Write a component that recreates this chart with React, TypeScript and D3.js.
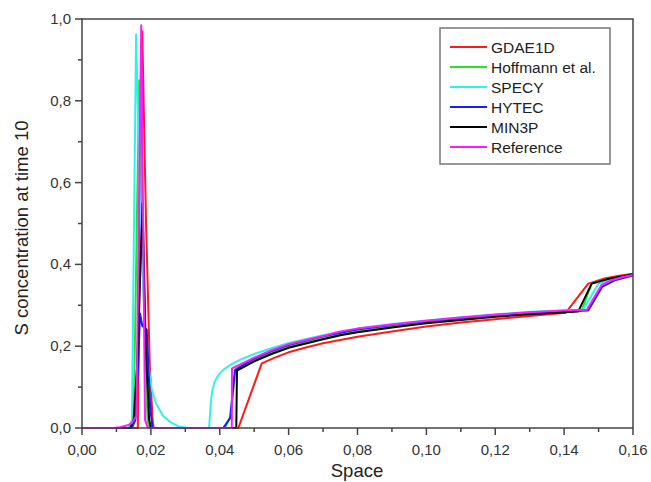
import React from "react";
import * as d3 from "d3";

type P = [number, number];

const seriesNames = ["GDAE1D", "Hoffmann et al.", "SPECY", "HYTEC", "MIN3P", "Reference"];
const seriesColors = ["#ff1a1a", "#22e622", "#33f0f0", "#1a1aff", "#000000", "#ff1aff"];

const gdae1d: P[] = [
  [0, 0], [0.0162, 0], [0.0175, 0.97], [0.0186, 0.5], [0.0197, 0.15], [0.0205, 0.02], [0.0208, 0],
  [0.0454, 0], [0.0522, 0.158], [0.056, 0.172], [0.06, 0.185], [0.065, 0.197], [0.07, 0.207],
  [0.08, 0.223], [0.09, 0.236], [0.1, 0.248], [0.11, 0.258], [0.12, 0.266], [0.13, 0.274],
  [0.1405, 0.282], [0.147, 0.353], [0.152, 0.366], [0.156, 0.372], [0.16, 0.377],
];
const hoffmann: P[] = [
  [0, 0], [0.014, 0], [0.015, 0.02], [0.0166, 0.85], [0.018, 0.3], [0.019, 0.02], [0.0195, 0],
  [0.0415, 0], [0.0432, 0.03], [0.0446, 0.145], [0.05, 0.168], [0.055, 0.185], [0.06, 0.199],
  [0.07, 0.22], [0.08, 0.236], [0.09, 0.248], [0.1, 0.258], [0.11, 0.266], [0.12, 0.274],
  [0.13, 0.28], [0.1451, 0.287], [0.148, 0.353], [0.153, 0.365], [0.16, 0.376],
];
const specy: P[] = [
  [0, 0], [0.0135, 0], [0.0145, 0.02], [0.0157, 0.963], [0.0169, 0.53], [0.0185, 0.2],
  [0.0203, 0.093], [0.0215, 0.06], [0.0235, 0.03], [0.0256, 0.015], [0.028, 0.004], [0.031, 0],
  [0.0369, 0], [0.0371, 0.025], [0.0374, 0.06], [0.0378, 0.09], [0.0385, 0.113], [0.0395, 0.128],
  [0.041, 0.142], [0.043, 0.154], [0.046, 0.167], [0.05, 0.181], [0.055, 0.195], [0.06, 0.208],
  [0.07, 0.227], [0.08, 0.243], [0.09, 0.254], [0.1, 0.263], [0.11, 0.271], [0.12, 0.278],
  [0.13, 0.284], [0.1455, 0.289], [0.15, 0.353], [0.154, 0.364], [0.16, 0.374],
];
const hytec: P[] = [
  [0, 0], [0.0145, 0], [0.0155, 0.02], [0.0163, 0.15], [0.01685, 0.28], [0.0175, 0.25],
  [0.0188, 0.24], [0.0198, 0.05], [0.0205, 0],
  [0.041, 0], [0.043, 0.024], [0.0444, 0.141], [0.05, 0.17], [0.055, 0.188], [0.06, 0.203],
  [0.07, 0.224], [0.08, 0.241], [0.09, 0.252], [0.1, 0.261], [0.11, 0.269], [0.12, 0.276],
  [0.13, 0.282], [0.147, 0.287], [0.151, 0.345], [0.155, 0.362], [0.16, 0.373],
];
const min3p: P[] = [
  [0, 0], [0.014, 0], [0.015, 0.02], [0.016, 0.15], [0.0176, 0.55], [0.0185, 0.2], [0.0195, 0.02],
  [0.02, 0],
  [0.0448, 0], [0.045, 0.14], [0.05, 0.163], [0.055, 0.181], [0.06, 0.196], [0.07, 0.217],
  [0.075, 0.227], [0.08, 0.234], [0.09, 0.246], [0.1, 0.256], [0.11, 0.264], [0.12, 0.272],
  [0.13, 0.278], [0.1441, 0.285], [0.148, 0.353], [0.153, 0.365], [0.16, 0.376],
];
const reference: P[] = [
  [0, 0], [0.009, 0], [0.011, 0.002], [0.013, 0.006], [0.0145, 0.012], [0.0158, 0.03],
  [0.0172, 0.985], [0.0183, 0.02], [0.019, 0.003], [0.0195, 0],
  [0.0435, 0], [0.04355, 0.146], [0.0478, 0.163], [0.05, 0.172], [0.055, 0.19], [0.06, 0.205],
  [0.065, 0.215], [0.07, 0.225], [0.075, 0.236], [0.08, 0.243], [0.09, 0.253], [0.1, 0.262],
  [0.11, 0.27], [0.12, 0.277], [0.13, 0.283], [0.14, 0.287], [0.1466, 0.289], [0.1509, 0.35],
  [0.154, 0.362], [0.157, 0.369], [0.16, 0.374],
];
const seriesData: P[][] = [gdae1d, hoffmann, specy, hytec, min3p, reference];

const xMajorTicks = [0, 0.02, 0.04, 0.06, 0.08, 0.1, 0.12, 0.14, 0.16];
const xMinorTicks = [0.01, 0.03, 0.05, 0.07, 0.09, 0.11, 0.13, 0.15];
const yMajorTicks = [0, 0.2, 0.4, 0.6, 0.8, 1.0];
const yMinorTicks = [0.1, 0.3, 0.5, 0.7, 0.9];

const xTitle = "Space";
const yTitle = "S concentration at time 10";

const W = 651, H = 482;
const L = 82, R = 633, T = 19, B = 428;
const font = "Arial, 'Liberation Sans', sans-serif";
const axisColor = "#444";
const textColor = "#333";

const fmt = (v: number, d: number) => v.toFixed(d).replace(".", ",");

export default function App() {
  const x = d3.scaleLinear().domain([0, 0.16]).range([L, R]);
  const y = d3.scaleLinear().domain([0, 1]).range([B, T]);
  const line = d3.line<P>().x((d) => x(d[0])).y((d) => y(d[1])).curve(d3.curveLinear);

  const lg = { x0: 440, y0: 28, x1: 610, y1: 164 };

  return (
    <div style={{ position: "absolute", left: 0, top: 0 }}>
      <svg width={W} height={H} style={{ display: "block", background: "#fff" }}>
        <rect x={0} y={0} width={W} height={H} fill="#fff" />
        <defs>
          <clipPath id="plot">
            <rect x={L} y={T - 2} width={R - L} height={B - T + 4} />
          </clipPath>
        </defs>
        <g clipPath="url(#plot)">
          {seriesData.map((s, i) => (
            <path key={i} d={line(s) || ""} fill="none" stroke={seriesColors[i]} strokeWidth={2}
              strokeLinejoin="round" />
          ))}
        </g>
        {/* frame */}
        <rect x={L} y={T} width={R - L} height={B - T} fill="none" stroke={axisColor} strokeWidth={1.5} />
        {/* x ticks */}
        {xMajorTicks.map((t) => (
          <g key={"xm" + t}>
            <line x1={x(t)} x2={x(t)} y1={B} y2={B + 7} stroke={axisColor} strokeWidth={1.5} />
            <text x={x(t)} y={455} textAnchor="middle" fontFamily={font} fontSize={15} fill={textColor}>
              {fmt(t, 2)}
            </text>
          </g>
        ))}
        {xMinorTicks.map((t) => (
          <line key={"xn" + t} x1={x(t)} x2={x(t)} y1={B} y2={B + 4} stroke={axisColor} strokeWidth={1.5} />
        ))}
        {/* y ticks */}
        {yMajorTicks.map((t) => (
          <g key={"ym" + t}>
            <line x1={L - 7} x2={L} y1={y(t)} y2={y(t)} stroke={axisColor} strokeWidth={1.5} />
            <text x={71} y={y(t) + 5} textAnchor="end" fontFamily={font} fontSize={15} fill={textColor}>
              {fmt(t, 1)}
            </text>
          </g>
        ))}
        {yMinorTicks.map((t) => (
          <line key={"yn" + t} x1={L - 4} x2={L} y1={y(t)} y2={y(t)} stroke={axisColor} strokeWidth={1.5} />
        ))}
        {/* titles */}
        <text x={357} y={477} textAnchor="middle" fontFamily={font} fontSize={18.5} fill="#222">
          {xTitle}
        </text>
        <text transform={`translate(28, 228) rotate(-90)`} textAnchor="middle" fontFamily={font}
          fontSize={18.5} fill="#222">
          {yTitle}
        </text>
        {/* legend */}
        <rect x={lg.x0} y={lg.y0} width={lg.x1 - lg.x0} height={lg.y1 - lg.y0} fill="#fff" stroke="#777"
          strokeWidth={1.5} />
        {seriesNames.map((n, i) => (
          <g key={n}>
            <line x1={450} x2={487} y1={47 + i * 20} y2={47 + i * 20} stroke={seriesColors[i]} strokeWidth={2} />
            <text x={491} y={52.5 + i * 20} fontFamily={font} fontSize={15.5} fill="#222">
              {n}
            </text>
          </g>
        ))}
      </svg>
    </div>
  );
}
